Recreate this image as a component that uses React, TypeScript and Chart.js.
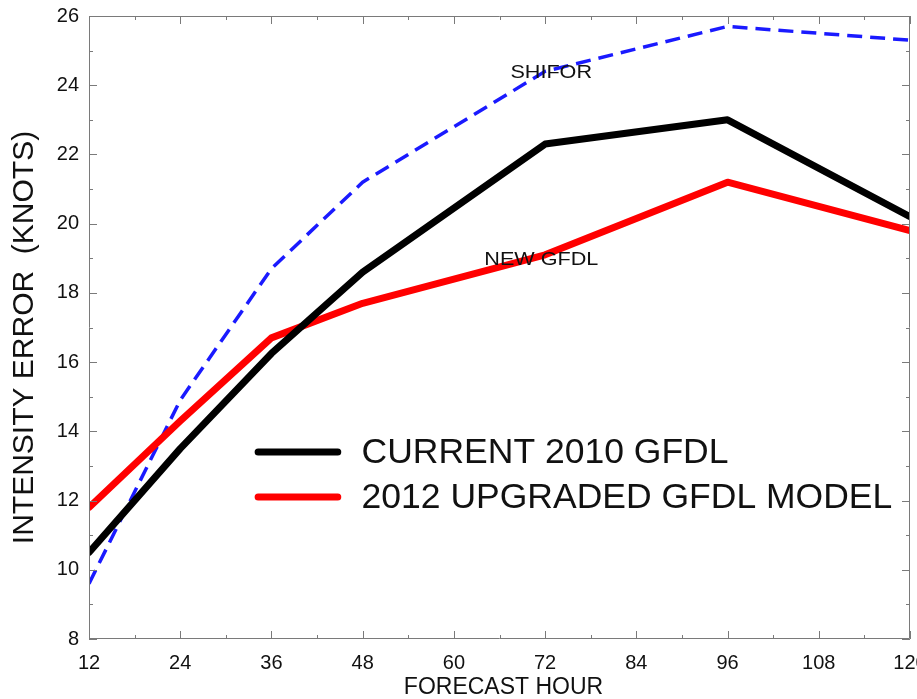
import React, { useEffect, useRef } from "react";
import { Chart, registerables } from "chart.js";

Chart.register(...registerables);

// Forecast lead times (hours)
const hours = [12, 24, 36, 48, 72, 96, 120];
// Mean intensity errors (knots)
const current2010 = [10.5, 13.5, 16.25, 18.6, 22.3, 23.0, 20.2];
const upgraded2012 = [11.8, 14.3, 16.7, 17.7, 19.1, 21.2, 19.8];
const shifor = [9.6, 14.9, 18.7, 21.2, 24.4, 25.7, 25.3];

const legendLabels = ["CURRENT 2010 GFDL", "2012 UPGRADED GFDL MODEL"];
const inlineLabels = [
  { text: "SHIFOR", x: 72.8, y: 24.35 },
  { text: "NEW GFDL", x: 71.5, y: 18.96 },
];
const xTitle = "FORECAST HOUR";
const yTitle = "INTENSITY ERROR  (KNOTS)";

const FONT = '"Liberation Sans", Arial, Helvetica, sans-serif';

const framePlugin = {
  id: "frameTicks",
  afterDraw(chart: any) {
    const { ctx, chartArea: a, scales } = chart;
    const xs = scales.x;
    const ys = scales.y;
    ctx.save();
    ctx.strokeStyle = "#7a7a7a";
    ctx.lineWidth = 1;
    ctx.beginPath();
    ctx.rect(a.left + 0.5, a.top + 0.5, a.right - a.left - 1, a.bottom - a.top - 1);
    ctx.stroke();
    ctx.beginPath();
    // x ticks every 6 hours, major every 12
    for (let h = 12; h <= 120; h += 6) {
      const px = Math.round(xs.getPixelForValue(h)) + 0.5;
      const len = h % 12 === 0 ? 8 : 4;
      ctx.moveTo(px, a.bottom);
      ctx.lineTo(px, a.bottom - len);
      ctx.moveTo(px, a.top);
      ctx.lineTo(px, a.top + len);
    }
    // y ticks every 1 knot, major every 2
    for (let v = 8; v <= 26; v += 1) {
      const py = Math.round(ys.getPixelForValue(v)) + 0.5;
      const len = v % 2 === 0 ? 8 : 4;
      ctx.moveTo(a.left, py);
      ctx.lineTo(a.left + len, py);
      ctx.moveTo(a.right, py);
      ctx.lineTo(a.right - len, py);
    }
    ctx.stroke();
    ctx.restore();
  },
};

const textPlugin = {
  id: "chartText",
  afterDatasetsDraw(chart: any) {
    const { ctx, chartArea: a, scales } = chart;
    const xs = scales.x;
    const ys = scales.y;
    const w = a.right - a.left;
    const h = a.bottom - a.top;
    ctx.save();
    ctx.fillStyle = "#111";

    // inline series labels
    ctx.font = `18px ${FONT}`;
    ctx.textAlign = "center";
    ctx.textBaseline = "middle";
    inlineLabels.forEach((l) => {
      ctx.save();
      ctx.translate(xs.getPixelForValue(l.x), ys.getPixelForValue(l.y));
      ctx.scale(1.2, 1);
      ctx.fillText(l.text, 0, 0);
      ctx.restore();
    });

    // legend inside the plot
    const lx0 = a.left + 0.206 * w;
    const lx1 = a.left + 0.303 * w;
    const tx = a.left + 0.332 * w;
    const rows = [0.7, 0.772];
    const sets = chart.data.datasets.slice(0, 2);
    sets.forEach((ds: any, i: number) => {
      const y = a.top + rows[i] * h;
      ctx.strokeStyle = ds.borderColor;
      ctx.lineWidth = 7;
      ctx.lineCap = "round";
      ctx.beginPath();
      ctx.moveTo(lx0, y);
      ctx.lineTo(lx1, y);
      ctx.stroke();
      ctx.fillStyle = "#111";
      ctx.font = `35.5px ${FONT}`;
      ctx.textAlign = "left";
      ctx.textBaseline = "middle";
      ctx.fillText(legendLabels[i], tx, y + 1);
    });

    // axis titles
    ctx.fillStyle = "#111";
    ctx.font = `23px ${FONT}`;
    ctx.textAlign = "center";
    ctx.textBaseline = "middle";
    ctx.fillText(xTitle, (a.left + a.right) / 2 + 4, 688);
    ctx.save();
    ctx.translate(25, (a.top + a.bottom) / 2 + 10);
    ctx.rotate(-Math.PI / 2);
    ctx.font = `30px ${FONT}`;
    ctx.fillText(yTitle, 0, 0);
    ctx.restore();
    ctx.restore();
  },
};

export default function App() {
  const canvasRef = useRef<HTMLCanvasElement | null>(null);

  useEffect(() => {
    if (!canvasRef.current) return;
    const toPoints = (vals: number[]) => hours.map((hr, i) => ({ x: hr, y: vals[i] }));
    const chart = new Chart(canvasRef.current, {
      type: "line",
      data: {
        datasets: [
          {
            label: legendLabels[0],
            data: toPoints(current2010),
            borderColor: "#000000",
            borderWidth: 7,
            pointRadius: 0,
            tension: 0,
            borderJoinStyle: "round",
            borderCapStyle: "round",
          },
          {
            label: legendLabels[1],
            data: toPoints(upgraded2012),
            borderColor: "#ff0000",
            borderWidth: 7,
            pointRadius: 0,
            tension: 0,
            borderJoinStyle: "round",
            borderCapStyle: "round",
          },
          {
            label: "SHIFOR",
            data: toPoints(shifor),
            borderColor: "#1a1aff",
            borderWidth: 3.5,
            borderDash: [15, 8],
            pointRadius: 0,
            tension: 0,
          },
        ],
      },
      options: {
        animation: false,
        responsive: false,
        maintainAspectRatio: false,
        layout: { padding: { top: 16, right: 7, left: 0, bottom: 0 } },
        plugins: {
          legend: { display: false },
          tooltip: { enabled: false },
          title: { display: false },
        },
        scales: {
          x: {
            type: "linear",
            min: 12,
            max: 120,
            grid: { display: false, drawTicks: false },
            border: { display: false },
            ticks: {
              stepSize: 12,
              padding: 12,
              color: "#111",
              font: { family: FONT, size: 20 },
              maxRotation: 0,
            },
            afterFit(scale: any) {
              scale.height = 60;
              scale.paddingLeft = 0;
              scale.paddingRight = 0;
            },
          },
          y: {
            min: 8,
            max: 26,
            grid: { display: false, drawTicks: false },
            border: { display: false },
            ticks: {
              stepSize: 2,
              padding: 10,
              color: "#111",
              font: { family: FONT, size: 20 },
            },
            afterFit(scale: any) {
              scale.width = 89;
              scale.paddingTop = 0;
              scale.paddingBottom = 0;
            },
          },
        },
      },
      plugins: [framePlugin, textPlugin],
    });
    return () => chart.destroy();
  }, []);

  return (
    <div style={{ position: "fixed", left: 0, top: 0, width: 917, height: 699, background: "#fff" }}>
      <canvas ref={canvasRef} width={917} height={699} style={{ width: 917, height: 699 }} />
    </div>
  );
}
